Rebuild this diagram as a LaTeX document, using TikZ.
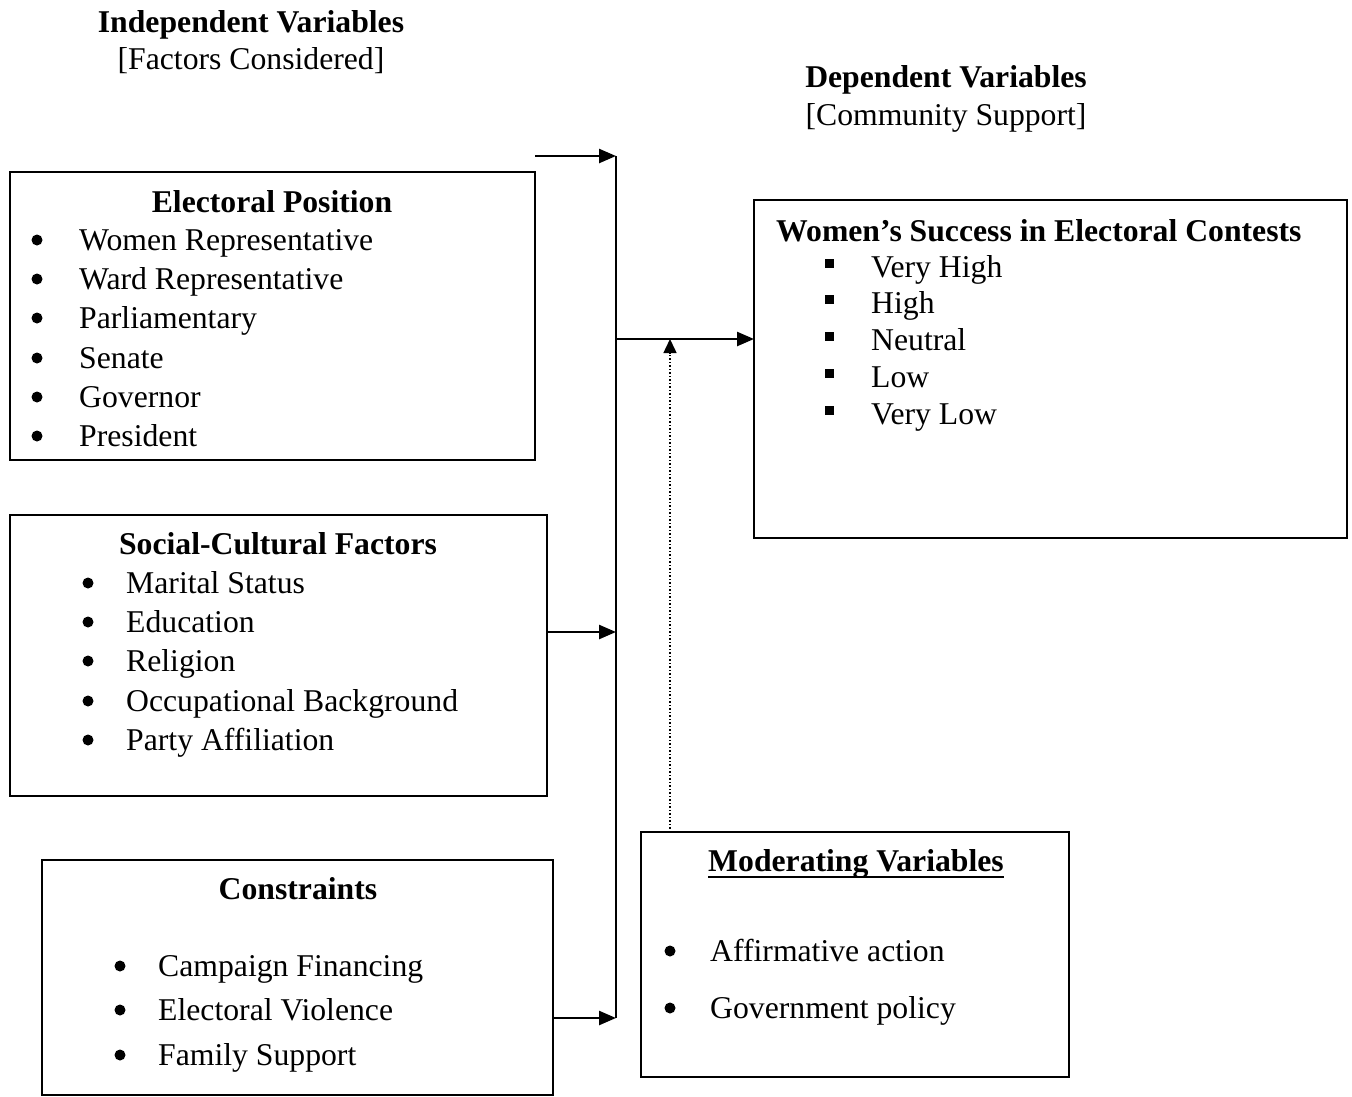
\documentclass[tikz,border=0pt]{standalone}
\usepackage{fontspec}
\setmainfont{Liberation Serif}
\usetikzlibrary{arrows.meta}
\begin{document}
\begin{tikzpicture}[x=1pt,y=-1pt,
  txt/.style={anchor=base west,inner sep=0pt,font=\fontsize{31.7}{39}\selectfont},
  hdr/.style={anchor=base,inner sep=0pt,font=\fontsize{31.7}{39}\selectfont\bfseries},
  sub/.style={anchor=base,inner sep=0pt,font=\fontsize{31.7}{39}\selectfont},
  box/.style={draw,line width=2pt},
  conn/.style={line width=2.5pt},
  arr/.style={line width=2.5pt,-{Triangle[length=17pt,width=14pt]}},
  dot/.style={circle,fill,inner sep=0pt,minimum size=11pt},
  sq/.style={rectangle,fill,inner sep=0pt,minimum size=9pt}]
\useasboundingbox (0,0) rectangle (1352,1096);
% titles
\node[hdr] (t1) at (251,32) {Independent Variables};
\node[sub] (t2) at (251,69) {[Factors Considered]};
\node[hdr] (t3) at (946,87) {Dependent Variables};
\node[sub] (t4) at (946,125) {[Community Support]};
% boxes
\draw[box] (10,172) rectangle (535,460);
\draw[box] (10,515) rectangle (547,796);
\draw[box] (42,860) rectangle (553,1095);
\draw[box] (754,200) rectangle (1347,538);
\draw[box] (641,832) rectangle (1069,1077);
% Electoral Position
\node[hdr] (ep) at (272,212) {Electoral Position};
\foreach \i/\t [count=\k] in {240/Women Representative,279/Ward Representative,318/Parliamentary,358/Senate,397/Governor,436/President}{
  \node[dot] (epb\k) at (37,\i) {};
  \node[txt] (ep\k) at (79,\i+10) {\t};
}
% Social-Cultural
\node[hdr] (sc) at (278,554) {Social-Cultural Factors};
\foreach \i/\t [count=\k] in {583/Marital Status,622/Education,661/Religion,701/Occupational Background,740/Party Affiliation}{
  \node[dot] (scb\k) at (88,\i) {};
  \node[txt] (sc\k) at (126,\i+10) {\t};
}
% Constraints
\node[hdr] (cs) at (298,899) {Constraints};
\foreach \i/\t [count=\k] in {966/Campaign Financing,1010/Electoral Violence,1055/Family Support}{
  \node[dot] (csb\k) at (120,\i) {};
  \node[txt] (cs\k) at (158,\i+10) {\t};
}
% Women's success
\node[txt,font=\fontsize{31.7}{39}\selectfont\bfseries] (ws) at (776,241) {Women’s Success in Electoral Contests};
\foreach \i/\t [count=\k] in {267/Very High,303/High,340/Neutral,377/Low,414/Very Low}{
  \node[sq] (wsb\k) at (829,\i-4) {};
  \node[txt] (ws\k) at (871,\i+10) {\t};
}
% Moderating
\node[hdr] (mv) at (856,871) {Moderating Variables};
\draw[line width=2.5pt] ([yshift=-6pt]mv.base west) -- ([yshift=-6pt]mv.base east);
\foreach \i/\t [count=\k] in {951/Affirmative action,1008/Government policy}{
  \node[dot] (mvb\k) at (670,\i) {};
  \node[txt] (mv\k) at (710,\i+10) {\t};
}
% connectors
\coordinate (top0) at (535,156);
\coordinate (top1) at (616,156);
\coordinate (mid) at (616,339);
\coordinate (sc1) at (547,632);
\coordinate (sc2) at (616,632);
\coordinate (cs1) at (553,1018);
\coordinate (cs2) at (616,1018);
\coordinate (ws0) at (754,339);
\coordinate (dt0) at (670,832);
\coordinate (dt1) at (670,339);
\draw[arr] (top0) -- (top1);
\draw[conn] (top1) -- (cs2);
\draw[arr] (mid) -- (ws0);
\draw[arr] (sc1) -- (sc2);
\draw[arr] (cs1) -- (cs2);
\draw[line width=1.5pt,dotted] (dt0) -- ([yshift=-14pt]dt1);
\draw[line width=1.5pt,-{Triangle[length=14pt,width=13pt]}] ([yshift=-15pt]dt1) -- (dt1);
\end{tikzpicture}
\end{document}
